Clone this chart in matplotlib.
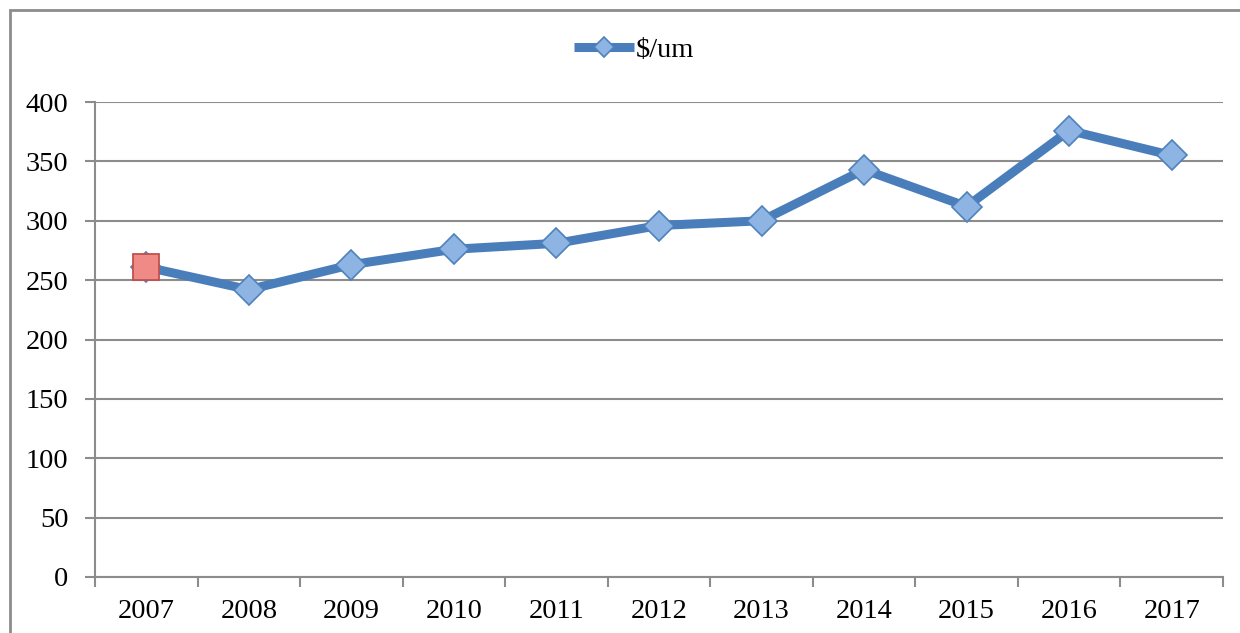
import matplotlib.pyplot as plt
from matplotlib.patches import Rectangle
import numpy as np

years = ['2007', '2008', '2009', '2010', '2011', '2012', '2013', '2014', '2015', '2016', '2017']
price = [261, 242, 263, 276, 281, 296, 300, 343, 312, 376, 355]
yticks = [0, 50, 100, 150, 200, 250, 300, 350, 400]

plt.rcParams['font.family'] = ['Liberation Serif', 'DejaVu Serif']

fig = plt.figure(figsize=(12.4, 6.33), dpi=100)
ax = fig.add_axes([95 / 1240, 1 - 577 / 633, 1128 / 1240, 475 / 633])

x = np.arange(len(years))
line_col = '#4A7EBB'
ax.plot(x, price, color=line_col, linewidth=6.5, marker='D', markersize=15,
        markerfacecolor='#8DB4E2', markeredgecolor='#4F81BD', markeredgewidth=1.2,
        solid_capstyle='butt', label=r'\$/um', zorder=3)
# first point highlighted
ax.plot(x[0], price[0], marker='s', markersize=18.5, markerfacecolor='#F08A87',
        markeredgecolor='#C0504D', markeredgewidth=1.3, linestyle='none', zorder=4)

ax.set_xlim(-0.5, len(years) - 0.5)
ax.set_ylim(0, 400)
ax.set_yticks(yticks)
ax.set_xticks(x)
ax.set_xticklabels(years)
ax.set_xticks(np.arange(-0.5, len(years)), minor=True)
ax.tick_params(axis='x', which='major', length=0, pad=16, labelsize=20.5)
ax.tick_params(axis='x', which='minor', length=7, width=1.5, color='#8C8C8C', direction='out')
ax.tick_params(axis='y', length=7, width=1.5, color='#8C8C8C', pad=12, labelsize=20.5)

ax.grid(axis='y', color='#8C8C8C', linewidth=1.5)
ax.set_axisbelow(True)
for s in ['top', 'right']:
    ax.spines[s].set_visible(False)
for s in ['left', 'bottom']:
    ax.spines[s].set_color('#8C8C8C')
    ax.spines[s].set_linewidth(1.5)

leg = ax.legend(loc='center', bbox_to_anchor=(634 / 1240, 1 - 50 / 633),
                bbox_transform=fig.transFigure, frameon=False, fontsize=20.5,
                handlelength=2.1, handletextpad=0.05, markerscale=0.7)

# outer chart border
fig.patches.append(Rectangle((9.5 / 1240, -0.1), 1.2, 1 - 10 / 633 + 0.1,
                             transform=fig.transFigure, fill=False,
                             edgecolor='#8C8C8C', linewidth=2))

fig.savefig('out.png', dpi=100)
